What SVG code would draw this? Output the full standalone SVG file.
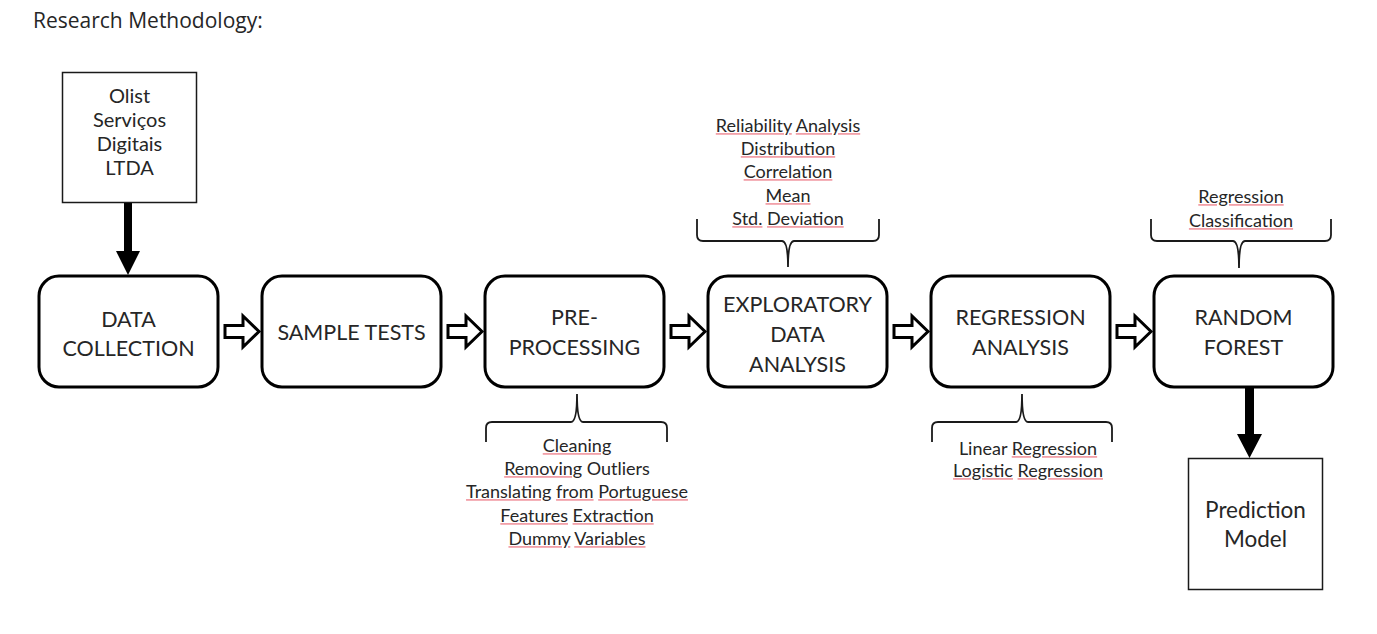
<svg xmlns="http://www.w3.org/2000/svg" width="1377" height="634" viewBox="0 0 1377 634">
<style>
.box{fill:#fff;stroke:#000;stroke-width:3}
.sq{fill:#fff;stroke:#1a1a1a;stroke-width:1.5}
.t{font-family:Lato,"Liberation Sans",sans-serif;font-size:21.5px;fill:#262626;text-anchor:middle}
.s{font-family:Lato,"Liberation Sans",sans-serif;font-size:20px;fill:#262626;text-anchor:middle}
.p{font-family:Lato,"Liberation Sans",sans-serif;font-size:22.5px;fill:#262626;text-anchor:middle}
.a{font-family:Lato,"Liberation Sans",sans-serif;font-size:18px;fill:#262626;text-anchor:middle}
.u{text-decoration:underline;fill:#f2a0a8}
.w{fill:#262626}
.brace{fill:none;stroke:#1a1a1a;stroke-width:1.8}
.hol{fill:#fff;stroke:#000;stroke-width:3;stroke-linejoin:miter}
.sol{fill:#000;stroke:none}
</style>
<text x="33" y="28" style="font-family:'Open Sans','Noto Sans',sans-serif;font-size:21px;fill:#262626">Research Methodology:</text>

<g id="olist">
<rect class="sq" x="62.5" y="72.5" width="134" height="130"/>
<text class="s" x="129.5" y="103">Olist</text>
<text class="s" x="129.5" y="127">Serviços</text>
<text class="s" x="129.5" y="151">Digitais</text>
<text class="s" x="129.5" y="175">LTDA</text>
</g>

<g id="data-collection">
<rect class="box" x="39" y="276" width="179" height="111" rx="20"/>
<text class="t" x="128.5" y="327">DATA</text>
<text class="t" x="128.5" y="356">COLLECTION</text>
</g>

<g id="sample-tests">
<rect class="box" x="262" y="276" width="179" height="111" rx="20"/>
<text class="t" x="351.5" y="340">SAMPLE TESTS</text>
</g>

<g id="pre-processing">
<rect class="box" x="485" y="276" width="179" height="111" rx="20"/>
<text class="t" x="574.5" y="325">PRE-</text>
<text class="t" x="574.5" y="355">PROCESSING</text>
</g>

<g id="eda">
<rect class="box" x="708" y="276" width="179" height="111" rx="20"/>
<text class="t" x="797.5" y="312">EXPLORATORY</text>
<text class="t" x="797.5" y="342">DATA</text>
<text class="t" x="797.5" y="372">ANALYSIS</text>
</g>

<g id="regression-analysis">
<rect class="box" x="931" y="276" width="179" height="111" rx="20"/>
<text class="t" x="1020.5" y="325">REGRESSION</text>
<text class="t" x="1020.5" y="355">ANALYSIS</text>
</g>

<g id="random-forest">
<rect class="box" x="1154" y="276" width="179" height="111" rx="20"/>
<text class="t" x="1243.5" y="325">RANDOM</text>
<text class="t" x="1243.5" y="355">FOREST</text>
</g>

<g id="prediction-model">
<rect class="sq" x="1188.5" y="458.5" width="134" height="131"/>
<text class="p" x="1255.5" y="518">Prediction</text>
<text class="p" x="1255.5" y="547">Model</text>
</g>

<g id="pre-processing-notes">
<path class="brace" d="M486,442 V428 Q486,422 492,422 H571 Q577,422 577,394 Q577,422 583,422 H661 Q667,422 667,428 V442"/>
<text class="a" x="577" y="452"><tspan class="u"><tspan class="w">Cleaning</tspan></tspan></text>
<text class="a" x="577" y="475"><tspan class="u"><tspan class="w">Removing</tspan></tspan> Outliers</text>
<text class="a" x="577" y="498"><tspan class="u"><tspan class="w">Translating</tspan></tspan> <tspan class="u"><tspan class="w">from</tspan></tspan> <tspan class="u"><tspan class="w">Portuguese</tspan></tspan></text>
<text class="a" x="577" y="522"><tspan class="u"><tspan class="w">Features</tspan></tspan> <tspan class="u"><tspan class="w">Extraction</tspan></tspan></text>
<text class="a" x="577" y="545"><tspan class="u"><tspan class="w">Dummy</tspan></tspan> <tspan class="u"><tspan class="w">Variables</tspan></tspan></text>
</g>

<g id="eda-notes">
<text class="a" x="788" y="132"><tspan class="u"><tspan class="w">Reliability</tspan></tspan> <tspan class="u"><tspan class="w">Analysis</tspan></tspan></text>
<text class="a" x="788" y="155"><tspan class="u"><tspan class="w">Distribution</tspan></tspan></text>
<text class="a" x="788" y="178"><tspan class="u"><tspan class="w">Correlation</tspan></tspan></text>
<text class="a" x="788" y="202"><tspan class="u"><tspan class="w">Mean</tspan></tspan></text>
<text class="a" x="788" y="225"><tspan class="u"><tspan class="w">Std.</tspan></tspan> <tspan class="u"><tspan class="w">Deviation</tspan></tspan></text>
<path class="brace" d="M697,219 V235 Q697,241 703,241 H782 Q788,241 788,267 Q788,241 794,241 H873 Q879,241 879,235 V219"/>
</g>

<g id="regression-notes">
<path class="brace" d="M932,442 V428 Q932,422 938,422 H1016 Q1022,422 1022,394 Q1022,422 1028,422 H1106 Q1112,422 1112,428 V442"/>
<text class="a" x="1028" y="455">Linear <tspan class="u"><tspan class="w">Regression</tspan></tspan></text>
<text class="a" x="1028" y="477"><tspan class="u"><tspan class="w">Logistic</tspan></tspan> <tspan class="u"><tspan class="w">Regression</tspan></tspan></text>
</g>

<g id="random-forest-notes">
<text class="a" x="1241" y="203"><tspan class="u"><tspan class="w">Regression</tspan></tspan></text>
<text class="a" x="1241" y="227"><tspan class="u"><tspan class="w">Classification</tspan></tspan></text>
<path class="brace" d="M1151,219 V235 Q1151,241 1157,241 H1233 Q1239,241 1239,268 Q1239,241 1245,241 H1325 Q1331,241 1331,235 V219"/>
</g>

<g id="connectors">
<path class="sol" d="M124,203 H132 V251 H140 L128,275 L116,251 H124 Z"/>
<path class="hol" d="M225,325.5 H243 V316 L259,331.5 L243,347 V337.5 H225 Z"/>
<path class="hol" d="M448,325.5 H466 V316 L482,331.5 L466,347 V337.5 H448 Z"/>
<path class="hol" d="M671,325.5 H689 V316 L705,331.5 L689,347 V337.5 H671 Z"/>
<path class="hol" d="M894,325.5 H912 V316 L928,331.5 L912,347 V337.5 H894 Z"/>
<path class="hol" d="M1117,325.5 H1135 V316 L1151,331.5 L1135,347 V337.5 H1117 Z"/>
<path class="sol" d="M1245,388 H1254 V434 H1262 L1249.5,458 L1237,434 H1245 Z"/>
</g>
</svg>
